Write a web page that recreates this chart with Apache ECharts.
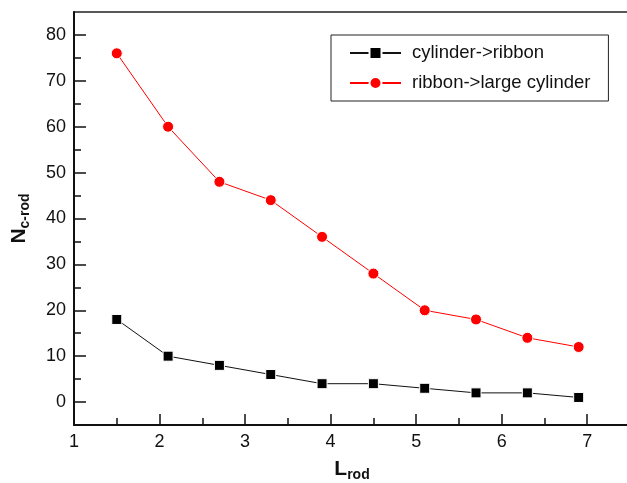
<!DOCTYPE html>
<html><head><meta charset="utf-8">
<script src="https://cdn.jsdelivr.net/npm/echarts@6/dist/echarts.min.js"></script>
<style>html,body{margin:0;padding:0;background:#fff}#c{width:627px;height:483px}</style>
</head><body><div id="c"></div>
<script>
const xValues = [1.5, 2.1, 2.7, 3.3, 3.9, 4.5, 5.1, 5.7, 6.3, 6.9];
const cylToRibbon = [18, 10, 8, 6, 4, 4, 3, 2, 2, 1];
const ribbonToLarge = [76, 60, 48, 44, 36, 28, 20, 18, 14, 12];
const seriesNames = ['cylinder->ribbon', 'ribbon->large cylinder'];
const yMajorTicks = [0, 10, 20, 30, 40, 50, 60, 70, 80];
const yMinorTicks = [5, 15, 25, 35, 45, 55, 65, 75];

const font = 'Liberation Sans, Arial, sans-serif';
const pair = (xs, ys) => xs.map((x, i) => [x, ys[i]]);
const chart = echarts.init(document.getElementById('c'));
const yBase = { type: 'value', min: -5, max: 85, splitLine: { show: false } };
chart.setOption({
  animation: false,
  backgroundColor: '#fff',
  grid: { left: 74, top: 12, width: 556, height: 413, outerBoundsMode: 'none', containLabel: false,
    show: true, borderColor: '#222', borderWidth: 1.5, backgroundColor: 'transparent' },
  legend: {
    orient: 'vertical', left: 331, top: 35,
    padding: [8, 18, 8, 18], itemGap: 10,
    itemWidth: 51, itemHeight: 15,
    borderColor: '#222', borderWidth: 1, backgroundColor: '#fff',
    textStyle: { fontFamily: font, fontSize: 18.5, color: '#111', lineHeight: 20, padding: [0, 0, 0, 6] },
    data: seriesNames
  },
  xAxis: {
    type: 'value', min: 1, max: 7.5, interval: 1,
    axisLine: { show: true, onZero: false, lineStyle: { color: '#111', width: 2 } },
    axisTick: { show: true, inside: true, length: 11, lineStyle: { color: '#111', width: 1.5 } },
    minorTick: { show: true, splitNumber: 2, length: 7, lineStyle: { color: '#111', width: 1.5 } },
    splitLine: { show: false },
    axisLabel: { fontFamily: font, fontSize: 18, color: '#111', margin: 8,
      formatter: v => (v > 7 ? '' : String(v)) },
    name: '{b|L}{s|rod}', nameLocation: 'middle', nameGap: 31,
    nameTextStyle: { rich: {
      b: { fontFamily: font, fontSize: 21, fontWeight: 'bold', color: '#111' },
      s: { fontFamily: font, fontSize: 14, fontWeight: 'bold', color: '#111', padding: [12, 0, 0, 0] } } }
  },
  yAxis: [
    Object.assign({}, yBase, {
      axisLine: { show: true, onZero: false, lineStyle: { color: '#111', width: 2 } },
      axisTick: { show: true, inside: true, length: 12, customValues: yMajorTicks, lineStyle: { color: '#111', width: 1.5 } },
      axisLabel: { fontFamily: font, fontSize: 18, color: '#111', margin: 8, customValues: yMajorTicks },
      name: '{b|N}{s|c-rod}', nameLocation: 'middle', nameGap: 42,
      nameTextStyle: { rich: {
        b: { fontFamily: font, fontSize: 21, fontWeight: 'bold', color: '#111' },
        s: { fontFamily: font, fontSize: 14, fontWeight: 'bold', color: '#111', padding: [12, 0, 0, 0] } } }
    }),
    Object.assign({}, yBase, {
      position: 'left',
      axisLine: { show: false, onZero: false },
      axisTick: { show: true, inside: true, length: 7, customValues: yMinorTicks, lineStyle: { color: '#111', width: 1.5 } },
      axisLabel: { show: false }
    })
  ],
  series: [
    { name: seriesNames[0], type: 'line', data: pair(xValues, cylToRibbon),
      symbol: 'rect', symbolSize: 10, color: '#000',
      lineStyle: { color: '#111', width: 1 },
      itemStyle: { color: '#000', borderColor: '#fff', borderWidth: 1 } },
    { name: seriesNames[1], type: 'line', data: pair(xValues, ribbonToLarge),
      symbol: 'circle', symbolSize: 11, color: '#ff0000',
      lineStyle: { color: '#ff0000', width: 1 },
      itemStyle: { color: '#ff0000', borderColor: '#fff', borderWidth: 1 } }
  ]
});
</script></body></html>
